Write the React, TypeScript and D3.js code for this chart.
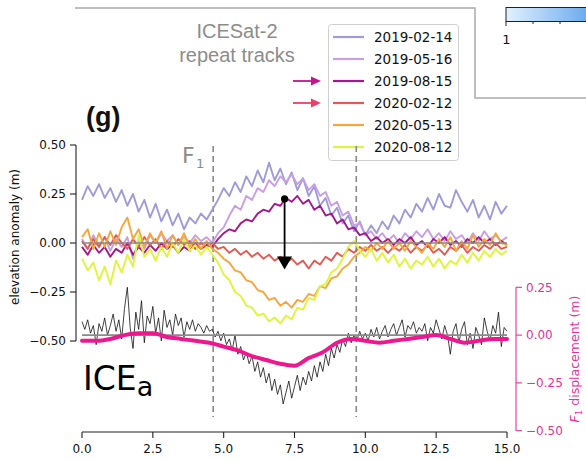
import React from "react";
import * as d3 from "d3";

// repeat-track dates and colours
const dates = ["2019-02-14", "2019-05-16", "2019-08-15", "2020-02-12", "2020-05-13", "2020-08-12"];
const trackColors = ["#9e9bd8", "#c99ee3", "#a3198c", "#e35a52", "#f7a63e", "#dff53b"];

const xTicks = [0, 2.5, 5, 7.5, 10, 12.5, 15];
const yTicks = [0.5, 0.25, 0, -0.25, -0.5];
const yRightTicks = [0.25, 0, -0.25, -0.5];
const faultX = [4.63, 9.68];

// elevation anomaly (m), sampled every 0.2 along track, 0 -> 15
const t20190214 = [
  0.22, 0.29, 0.24, 0.3, 0.23, 0.28, 0.21, 0.27, 0.19, 0.25,
  0.16, 0.22, 0.13, 0.2, 0.11, 0.17, 0.09, 0.15, 0.07, 0.13,
  0.1, 0.15, 0.12, 0.17, 0.22, 0.28, 0.24, 0.31, 0.26, 0.34,
  0.29, 0.37, 0.31, 0.41, 0.32, 0.38, 0.3, 0.36, 0.27, 0.33,
  0.24, 0.29, 0.19, 0.23, 0.14, 0.18, 0.1, 0.14, 0.06, 0.11,
  0.04, 0.09, 0.05, 0.11, 0.07, 0.14, 0.1, 0.17, 0.13, 0.2,
  0.16, 0.23, 0.17, 0.25, 0.19, 0.18, 0.27, 0.21, 0.16, 0.22,
  0.13, 0.19, 0.12, 0.21, 0.15, 0.19,
];
const t20190516 = [
  0.02, -0.03, 0.04, -0.01, 0.03, -0.04, 0.02, -0.02, 0.03, -0.08,
  0.01, -0.03, 0.04, 0.0, 0.05, 0.01, 0.04, -0.01, 0.03, 0.0,
  0.04, 0.01, 0.03, 0.0, 0.05, 0.08, 0.14, 0.19, 0.17, 0.24,
  0.22, 0.28, 0.26, 0.32, 0.29, 0.34, 0.31, 0.35, 0.3, 0.33,
  0.27, 0.3, 0.24, 0.26, 0.19, 0.21, 0.14, 0.16, 0.09, 0.1,
  0.04, 0.06, 0.02, 0.05, 0.01, 0.04, 0.0, 0.05, 0.02, 0.06,
  0.03, 0.07, 0.02, 0.05, 0.01, 0.06, 0.02, 0.04, 0.0, 0.05,
  0.01, 0.06, 0.02, 0.04, 0.01, 0.03,
];
const t20190815 = [
  -0.02, -0.06, -0.01, -0.05, -0.02, -0.07, -0.03, -0.05, 0.0, -0.06,
  -0.02, -0.05, -0.01, -0.04, 0.0, -0.03, -0.01, -0.05, -0.02, -0.04,
  0.0, -0.03, -0.01, -0.02, 0.02, 0.05, 0.07, 0.06, 0.1, 0.12,
  0.11, 0.15, 0.17, 0.16, 0.2, 0.19, 0.23, 0.21, 0.24, 0.2,
  0.22, 0.17, 0.19, 0.14, 0.15, 0.1, 0.12, 0.07, 0.08, 0.04,
  0.05, 0.01, 0.03, 0.0, 0.02, -0.01, 0.02, 0.0, 0.03, -0.01,
  0.01, -0.02, 0.02, 0.0, 0.03, -0.01, 0.01, -0.02, 0.02, 0.0,
  0.03, 0.0, 0.02, -0.01, 0.01, -0.01,
];
const t20200212 = [
  0.01, -0.03, 0.02, -0.02, 0.03, -0.01, 0.04, 0.0, -0.03, 0.02,
  -0.02, 0.03, -0.01, 0.02, -0.03, 0.01, -0.02, 0.02, -0.01, 0.01,
  -0.03, 0.0, -0.02, 0.0, -0.03, -0.02, -0.05, -0.03, -0.06, -0.04,
  -0.07, -0.05, -0.08, -0.06, -0.09, -0.07, -0.1, -0.08, -0.11, -0.09,
  -0.13, -0.09, -0.11, -0.07, -0.09, -0.05, -0.07, -0.03, -0.05, -0.02,
  -0.04, -0.01, -0.04, -0.02, -0.05, -0.02, -0.04, -0.01, -0.05, -0.02,
  -0.04, -0.01, -0.05, -0.03, -0.06, -0.02, -0.04, -0.01, -0.05, -0.02,
  -0.04, -0.01, -0.03, 0.0, -0.03, -0.02,
];
const t20200513 = [
  0.03, 0.07, -0.03, 0.05, -0.02, 0.06, -0.01, 0.08, 0.13, 0.02,
  0.07, -0.02, 0.05, 0.0, 0.06, -0.03, 0.04, -0.01, 0.05, -0.02,
  0.02, -0.03, 0.01, -0.03, -0.05, -0.08, -0.1, -0.14, -0.15, -0.19,
  -0.2, -0.24, -0.25, -0.29, -0.28, -0.32, -0.3, -0.33, -0.29, -0.3,
  -0.26, -0.27, -0.22, -0.23, -0.18, -0.17, -0.13, -0.11, -0.07, -0.05,
  -0.02, -0.04, 0.0, -0.03, 0.01, -0.03, 0.0, -0.04, 0.01, -0.02,
  -0.05, 0.0, -0.03, 0.02, -0.02, 0.03, -0.04, 0.01, -0.03, 0.04,
  -0.02, 0.02, -0.01, 0.05, 0.0, -0.01,
];
const t20200812 = [
  -0.08, -0.14, -0.1, -0.19, -0.12, -0.21, -0.09, -0.15, -0.06, -0.12,
  0.04, -0.07, -0.03, -0.09, -0.02, -0.07, 0.0, -0.05, 0.02, -0.04,
  -0.01, -0.06, -0.02, -0.06, -0.1, -0.16, -0.19, -0.25, -0.27, -0.32,
  -0.33, -0.37, -0.36, -0.4, -0.38, -0.41, -0.37, -0.39, -0.33, -0.34,
  -0.28, -0.29, -0.22, -0.21, -0.15, -0.13, -0.08, -0.02, 0.01, -0.04,
  -0.07, -0.03, -0.09, -0.05, -0.1, -0.06, -0.12, -0.08, -0.13, -0.09,
  -0.11, -0.07, -0.12, -0.08, -0.13, -0.09, -0.11, -0.06, -0.1, -0.05,
  -0.09, -0.04, -0.07, -0.03, -0.06, -0.04,
];
const tracks = [t20190214, t20190516, t20190815, t20200212, t20200513, t20200812];

// ICEa residual (right axis, m), every 0.1
const iceA = [
  0.07, 0.03, 0.08, 0.01, 0.05, -0.05, 0.06, 0.02, 0.09, 0.0,
  0.05, 0.11, 0.02, 0.08, -0.02, 0.14, 0.25, 0.04, -0.07, 0.12,
  0.03, 0.18, -0.04, 0.1, 0.06, 0.15, 0.01, 0.09, -0.03, 0.13,
  0.04, 0.08, 0.0, 0.11, 0.05, 0.09, -0.01, 0.07, 0.03, 0.08,
  0.02, 0.06, 0.04, 0.01, 0.05, 0.02, 0.03, -0.01, 0.02, -0.03,
  0.01, -0.05, -0.02, -0.08, 0.0, -0.1, -0.06, -0.13, -0.09, -0.15,
  -0.11, -0.19, -0.14, -0.22, -0.17, -0.25, -0.2, -0.29, -0.23, -0.31,
  -0.26, -0.36, -0.3, -0.24, -0.33, -0.27, -0.21, -0.29, -0.22, -0.26,
  -0.19, -0.24, -0.16, -0.22, -0.14, -0.19, -0.1, -0.16, -0.07, -0.12,
  -0.05, -0.09, -0.02, -0.06, 0.01, -0.04, 0.0, -0.03, 0.02, -0.02,
  0.01, -0.03, 0.03, -0.01, 0.04, -0.02, 0.02, 0.05, -0.01, 0.03,
  0.06, 0.0, 0.04, 0.08, -0.01, 0.05, 0.03, 0.07, 0.01, 0.04,
  0.02, 0.06, -0.03, 0.04, 0.01, 0.08, 0.03, -0.02, 0.05, 0.0,
  -0.1, 0.02, 0.06, -0.04, 0.03, 0.07, -0.05, 0.01, -0.07, 0.04,
  0.0, -0.05, 0.09, 0.02, -0.03, 0.05, 0.01, 0.12, -0.06, 0.04,
  0.02,
];

// F1 displacement (m), every 0.5
const f1Disp = [
  -0.03, -0.03, -0.02, 0.0, 0.01, 0.01, -0.01, -0.02, -0.03, -0.04,
  -0.06, -0.08, -0.11, -0.13, -0.15, -0.16, -0.12, -0.09, -0.04, -0.02,
  -0.03, -0.04, -0.03, -0.02, -0.01, 0.0, -0.02, -0.04, -0.03, -0.02,
  -0.02,
];

const arrowX = 7.15;
const arrowFrom = 0.225;
const arrowTo = -0.135;

const W = 586;
const H = 460;
const pink = "#f0168e";
const pinkAxis = "#e8309a";
const gray = "#8a8a8a";
const tickFont = "DejaVu Sans, Verdana, sans-serif";

export default function App() {
  const x = d3.scaleLinear().domain([0, 15]).range([82, 507]);
  const y = d3.scaleLinear().domain([-0.5, 0.5]).range([341, 145]);
  const yR = d3.scaleLinear().domain([-0.5, 0.25]).range([430.7, 287.3]);

  const along = (arr: number[]) => (i: number) => (i * 15) / (arr.length - 1);

  const mkLine = (arr: number[], sc: d3.ScaleLinear<number, number>, curve = d3.curveLinear) => {
    const xi = along(arr);
    return d3
      .line<number>()
      .x((_, i) => x(xi(i)))
      .y((d) => sc(d))
      .curve(curve)(arr) as string;
  };

  const f2 = d3.format(".2f");
  const f1 = d3.format(".1f");

  const legendY = d3.scaleLinear().domain([0, 5]).range([37, 147]);

  return (
    <svg
      width={W}
      height={H}
      style={{ position: "absolute", left: 0, top: 0, background: "#fff" }}
    >
      <defs>
        <linearGradient id="cbar" x1="0" x2="1" y1="0" y2="0">
          <stop offset="0" stopColor="#e2f1ff" />
          <stop offset="1" stopColor="#5fa3ec" />
        </linearGradient>
      </defs>

      {/* frame of the panel above */}
      <path d="M75,8 H475 V98 H586" fill="none" stroke="#aaa" strokeWidth={1.5} />
      <rect x={506} y={7.5} width={90} height={14} fill="url(#cbar)" stroke="#222" strokeWidth={1} />
      {[506, 533, 560].map((t, i) => (
        <line key={t} x1={t} x2={t} y1={21.5} y2={i === 0 ? 26 : 24} stroke="#222" strokeWidth={1} />
      ))}
      <text x={506.5} y={44} fontSize={13} fontFamily={tickFont} textAnchor="middle" fill="#111">
        1
      </text>

      <text x={237} y={38} fontSize={20} fontFamily="Liberation Sans, Arial, sans-serif" fill="#8c8c8c" textAnchor="middle">
        ICESat-2
      </text>
      <text x={237} y={62} fontSize={20} fontFamily="Liberation Sans, Arial, sans-serif" fill="#8c8c8c" textAnchor="middle">
        repeat tracks
      </text>

      <text x={86} y={126} fontSize={27} fontWeight="bold" fontFamily="Liberation Sans, Arial, sans-serif" fill="#111">
        (g)
      </text>

      {/* legend */}
      <rect x={328.5} y={24.5} width={130} height={136} rx={3} fill="#fff" fillOpacity={0.85} stroke="#d0d0d0" strokeWidth={1} />
      {dates.map((d, i) => (
        <g key={d}>
          <line x1={333} x2={364} y1={legendY(i)} y2={legendY(i)} stroke={trackColors[i]} strokeWidth={2.2} />
          <text x={374} y={legendY(i) + 4.8} fontSize={13.5} fontFamily={tickFont} fill="#111">
            {d}
          </text>
        </g>
      ))}
      {/* arrows pointing to highlighted tracks */}
      {[
        { i: 2, c: "#c0168e" },
        { i: 3, c: "#ef3f66" },
      ].map(({ i, c }) => (
        <g key={i}>
          <line x1={293} x2={312} y1={legendY(i)} y2={legendY(i)} stroke={c} strokeWidth={1.8} />
          <path d={`M311,${legendY(i) - 4.5} L321,${legendY(i)} L311,${legendY(i) + 4.5} Z`} fill={c} />
        </g>
      ))}

      {/* fault lines */}
      {faultX.map((f) => (
        <line key={f} x1={x(f)} x2={x(f)} y1={146} y2={417} stroke={gray} strokeWidth={1.6} strokeDasharray="6,4" />
      ))}
      <text x={182} y={163} fontSize={22} fontFamily={tickFont} fill={gray}>
        F
      </text>
      <text x={196} y={168} fontSize={13} fontFamily={tickFont} fill={gray}>
        1
      </text>

      {/* repeat tracks */}
      {tracks.map((t, i) => (
        <path key={dates[i]} d={mkLine(t, y)} fill="none" stroke={trackColors[i]} strokeWidth={1.9} strokeLinejoin="round" />
      ))}

      {/* ICEa residual + F1 displacement */}
      <path d={mkLine(iceA, yR)} fill="none" stroke="#111" strokeWidth={0.8} />
      <line x1={x(0)} x2={x(15)} y1={y(0)} y2={y(0)} stroke={gray} strokeWidth={1.6} />
      <line x1={x(0)} x2={x(15)} y1={yR(0)} y2={yR(0)} stroke={gray} strokeWidth={1.6} />
      <path d={mkLine(f1Disp, yR, d3.curveMonotoneX)} fill="none" stroke={pink} strokeWidth={4} strokeLinecap="round" />

      {/* change arrow */}
      <line x1={x(arrowX)} x2={x(arrowX)} y1={y(arrowFrom)} y2={y(arrowTo) - 10} stroke="#000" strokeWidth={1.8} />
      <circle cx={x(arrowX)} cy={y(arrowFrom)} r={3.6} fill="#000" />
      <path
        d={`M${x(arrowX) - 7.5},${y(arrowTo) - 13} L${x(arrowX) + 7.5},${y(arrowTo) - 13} L${x(arrowX)},${y(arrowTo)} Z`}
        fill="#000"
      />

      <text x={83} y={390} fontSize={33} fontFamily={tickFont} fill="#000">
        ICE
        <tspan fontSize={27} dy={6}>a</tspan>
      </text>

      {/* left axis */}
      <line x1={76} x2={76} y1={y(0.5)} y2={y(-0.5)} stroke="#222" strokeWidth={1.1} />
      {yTicks.map((t) => (
        <g key={t}>
          <line x1={70} x2={76} y1={y(t)} y2={y(t)} stroke="#222" strokeWidth={1.1} />
          <text x={66} y={y(t) + 4.3} fontSize={12} fontFamily={tickFont} textAnchor="end" fill="#111">
            {f2(t)}
          </text>
        </g>
      ))}
      <text
        transform={`translate(19,${(y(0.5) + y(-0.5)) / 2 - 6}) rotate(-90)`}
        fontSize={12}
        fontFamily={tickFont}
        textAnchor="middle"
        fill="#111"
      >
        elevation anomaly (m)
      </text>

      {/* bottom axis */}
      <line x1={x(0)} x2={x(15)} y1={432} y2={432} stroke="#222" strokeWidth={1.1} />
      {xTicks.map((t) => (
        <g key={t}>
          <line x1={x(t)} x2={x(t)} y1={432} y2={438} stroke="#222" strokeWidth={1.1} />
          <text x={x(t)} y={453} fontSize={12} fontFamily={tickFont} textAnchor="middle" fill="#111">
            {f1(t)}
          </text>
        </g>
      ))}

      {/* right axis */}
      <line x1={516} x2={516} y1={yR(0.25)} y2={yR(-0.5)} stroke={pinkAxis} strokeWidth={1.1} />
      {yRightTicks.map((t) => (
        <g key={t}>
          <line x1={516} x2={522} y1={yR(t)} y2={yR(t)} stroke={pinkAxis} strokeWidth={1.1} />
          <text x={526} y={yR(t) + 4.3} fontSize={12} fontFamily={tickFont} fill={pinkAxis}>
            {f2(t)}
          </text>
        </g>
      ))}
      <text
        transform={`translate(579,${(yR(0.25) + yR(-0.5)) / 2}) rotate(-90)`}
        fontSize={12.5}
        fontFamily={tickFont}
        textAnchor="middle"
        fill={pinkAxis}
      >
        <tspan fontStyle="italic">F</tspan>
        <tspan fontSize={8.5} dy={3}>1</tspan>
        <tspan dy={-3}> displacement (m)</tspan>
      </text>
    </svg>
  );
}
